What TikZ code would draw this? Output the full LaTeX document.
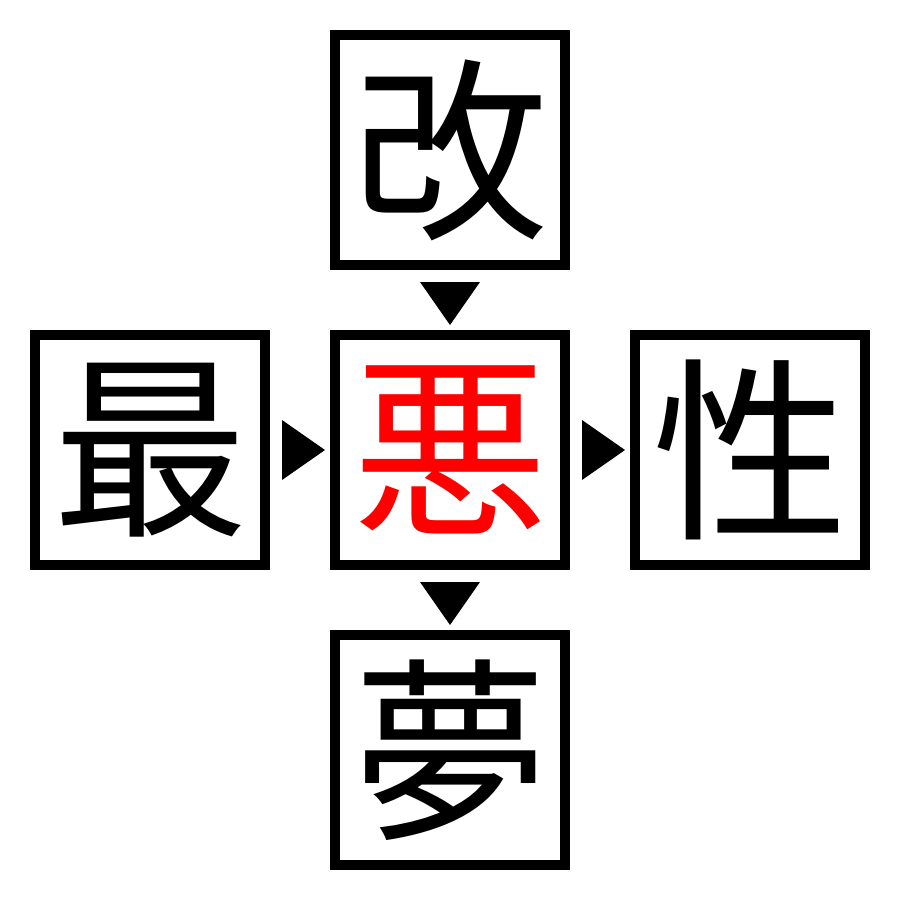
\documentclass[tikz,border=0pt]{standalone}
\usepackage{fontspec}
\newfontfamily\cjk{Noto Sans CJK JP}
\begin{document}
\begin{tikzpicture}[x=1pt,y=-1pt,
  charbox/.style={draw=black,line width=10pt,minimum width=230pt,minimum height=230pt,inner sep=0pt,
    font=\cjk\fontsize{196pt}{196pt}\selectfont},
  tri/.style={fill=black,draw=none}]
\useasboundingbox (0,0) rectangle (900,900);
\fill[white] (0,0) rectangle (900,900);
\node[charbox] (top) at (450,150) {改};
\node[charbox] (left) at (150,450) {最};
\node[charbox,text=red] (mid) at (450,450) {悪};
\node[charbox] (right) at (750,450) {性};
\node[charbox] (bot) at (450,750) {夢};
\coordinate (t1) at (420,282); \coordinate (t2) at (480,282); \coordinate (t3) at (450,325);
\fill[tri] (t1) -- (t2) -- (t3) -- cycle;
\coordinate (b1) at (420,582); \coordinate (b2) at (480,582); \coordinate (b3) at (450,625);
\fill[tri] (b1) -- (b2) -- (b3) -- cycle;
\coordinate (l1) at (282,420); \coordinate (l2) at (282,480); \coordinate (l3) at (325,450);
\fill[tri] (l1) -- (l2) -- (l3) -- cycle;
\coordinate (r1) at (582,420); \coordinate (r2) at (582,480); \coordinate (r3) at (625,450);
\fill[tri] (r1) -- (r2) -- (r3) -- cycle;
\end{tikzpicture}
\end{document}
